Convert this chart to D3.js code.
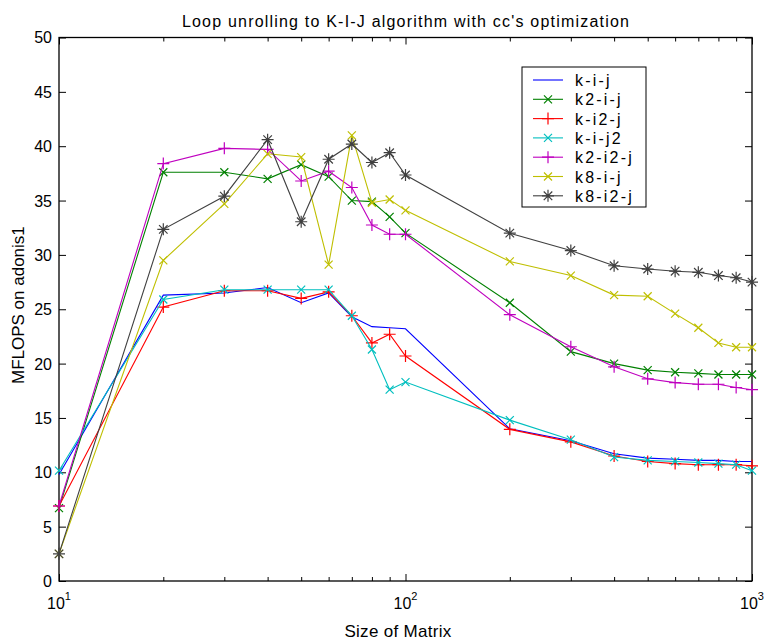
<!DOCTYPE html>
<html><head><meta charset="utf-8">
<script src="https://cdn.jsdelivr.net/npm/d3@7"></script>
<style>body{margin:0;background:#fff}svg{display:block}text{font-family:"Liberation Sans",Arial,sans-serif;fill:#000}</style>
</head><body><svg id="c" width="764" height="644"></svg>
<script>
const sizes = [10,20,30,40,50,60,70,80,90,100,200,300,400,500,600,700,800,900,1000];
const kij    = [9.8,26.3,26.5,27.0,25.6,26.5,24.3,23.4,23.3,23.2,14.0,12.9,11.7,11.3,11.2,11.1,11.1,11.0,11.0];
const k2ij   = [6.7,37.6,37.6,37.0,38.3,37.2,35.0,34.9,33.5,32.0,25.6,21.1,20.0,19.4,19.2,19.1,19.0,19.0,19.0];
const ki2j   = [6.9,25.2,26.7,26.7,26.0,26.6,24.4,21.9,22.7,20.7,13.95,12.8,11.5,11.0,10.8,10.7,10.7,10.7,10.6];
const kij2   = [10.15,25.9,26.8,26.8,26.8,26.8,24.4,21.3,17.6,18.3,14.8,13.0,11.4,11.1,11.0,10.9,10.8,10.7,10.15];
const k2i2j  = [6.9,38.4,39.8,39.7,36.8,37.7,36.2,32.75,31.9,31.9,24.5,21.55,19.7,18.6,18.25,18.1,18.1,17.8,17.6];
const k8ij   = [2.5,29.5,34.7,39.3,39.0,29.1,41.0,34.8,35.1,34.1,29.4,28.1,26.3,26.2,24.6,23.3,21.9,21.5,21.5];
const k8i2j  = [2.5,32.35,35.4,40.6,33.05,38.8,40.2,38.5,39.4,37.35,32.0,30.4,29.0,28.7,28.5,28.4,28.1,27.9,27.5];
const seriesNames = ["k-i-j","k2-i-j","k-i2-j","k-i-j2","k2-i2-j","k8-i-j","k8-i2-j"];
const seriesValues = [kij,k2ij,ki2j,kij2,k2i2j,k8ij,k8i2j];
const colors = ["#0000ff","#008000","#ff0000","#00bfbf","#bf00bf","#bfbf00","#404040"];
const markers = ["none","x","+","x","+","x","*"];
const yTicks = [0,5,10,15,20,25,30,35,40,45,50];
const xMajor = [10,100,1000];
const xMinor = [20,30,40,50,60,70,80,90,200,300,400,500,600,700,800,900];
const title = "Loop unrolling to K-I-J algorithm with cc's optimization";
const xLabel = "Size of Matrix";
const yLabel = "MFLOPS on adonis1";

const L=59,R=752,T=37.5,B=581;
const svg=d3.select("#c");
const x=d3.scaleLog().domain([10,1000]).range([L,R]);
const y=d3.scaleLinear().domain([0,50]).range([B,T]);

const g=svg.append("g");
g.append("g").attr("transform",`translate(0,${B})`)
 .call(d3.axisBottom(x).tickValues(xMajor).tickSizeInner(-7).tickSizeOuter(0).tickFormat(""))
 .call(a=>a.select(".domain").remove());
g.append("g").attr("transform",`translate(0,${B})`)
 .call(d3.axisBottom(x).tickValues(xMinor).tickSizeInner(-4).tickSizeOuter(0).tickFormat(""))
 .call(a=>a.select(".domain").remove());
g.append("g").attr("transform",`translate(0,${T})`)
 .call(d3.axisTop(x).tickValues(xMajor).tickSizeInner(-7).tickSizeOuter(0).tickFormat(""))
 .call(a=>a.select(".domain").remove());
g.append("g").attr("transform",`translate(0,${T})`)
 .call(d3.axisTop(x).tickValues(xMinor).tickSizeInner(-4).tickSizeOuter(0).tickFormat(""))
 .call(a=>a.select(".domain").remove());
const ya=g.append("g").attr("transform",`translate(${L},0)`)
 .call(d3.axisLeft(y).tickValues(yTicks).tickSizeInner(-7).tickSizeOuter(0).tickPadding(7).tickFormat(d3.format("d")))
 .call(a=>a.select(".domain").remove());
ya.selectAll("text").attr("font-size",16).attr("fill","#000").attr("font-family","'Liberation Sans'").attr("dy","0.34em");
g.append("g").attr("transform",`translate(${R},0)`)
 .call(d3.axisRight(y).tickValues(yTicks).tickSizeInner(-7).tickSizeOuter(0).tickFormat(""))
 .call(a=>a.select(".domain").remove());
g.selectAll(".tick line").attr("stroke","#000");
g.append("rect").attr("x",L).attr("y",T).attr("width",R-L).attr("height",B-T)
 .attr("fill","none").attr("stroke","#000").attr("stroke-width",1.3);

const xl=svg.append("g");
xMajor.forEach(v=>{
  const t=xl.append("text").attr("x",x(v)-12).attr("y",609).attr("font-size",16).attr("text-anchor","start");
  t.append("tspan").text("10");
  t.append("tspan").attr("dy",-9).attr("font-size",11).text(String(Math.round(Math.log10(v))));
});

const line=d3.line().x((d,i)=>x(sizes[i])).y(d=>y(d));
function marker(sel,type,color){
  const s=type==="x"?4:6;
  let p="";
  if(type==="x") p=`M${-s},${-s}L${s},${s}M${-s},${s}L${s},${-s}`;
  else if(type==="+") p=`M${-s},0L${s},0M0,${-s}L0,${s}`;
  else if(type==="*"){const a=s*0.71;p=`M${-s},0L${s},0M0,${-s}L0,${s}M${-a},${-a}L${a},${a}M${-a},${a}L${a},${-a}`;}
  sel.append("path").attr("d",p).attr("stroke",color).attr("stroke-width",1.2).attr("fill","none");
}
seriesValues.forEach((vals,k)=>{
  const sg=svg.append("g");
  sg.append("path").datum(vals).attr("d",line).attr("fill","none").attr("stroke",colors[k]).attr("stroke-width",1.1);
  if(markers[k]!=="none"){
    vals.forEach((v,i)=>{
      const m=sg.append("g").attr("transform",`translate(${x(sizes[i])},${y(v)})`);
      marker(m,markers[k],colors[k]);
    });
  }
});

const lg=svg.append("g");
lg.append("rect").attr("x",522).attr("y",67).attr("width",124).attr("height",140).attr("fill","#fff").attr("stroke","#000").attr("stroke-width",1);
seriesNames.forEach((n,k)=>{
  const yy=80+k*19.3;
  lg.append("line").attr("x1",533).attr("x2",563).attr("y1",yy).attr("y2",yy).attr("stroke",colors[k]).attr("stroke-width",1.1);
  if(markers[k]!=="none"){const m=lg.append("g").attr("transform",`translate(548,${yy})`);marker(m,markers[k],colors[k]);}
  lg.append("text").attr("x",575).attr("y",yy+6).attr("font-size",16).attr("letter-spacing",2.2).text(n);
});

svg.append("text").attr("x",406).attr("y",26.5).attr("text-anchor","middle").attr("font-size",16).attr("letter-spacing",1.2).text(title);
svg.append("text").attr("x",398).attr("y",637).attr("text-anchor","middle").attr("font-size",17).attr("letter-spacing",0.3).text(xLabel);
svg.append("text").attr("transform",`translate(24,384) rotate(-90)`).attr("text-anchor","start").attr("font-size",17).text(yLabel);
</script></body></html>
